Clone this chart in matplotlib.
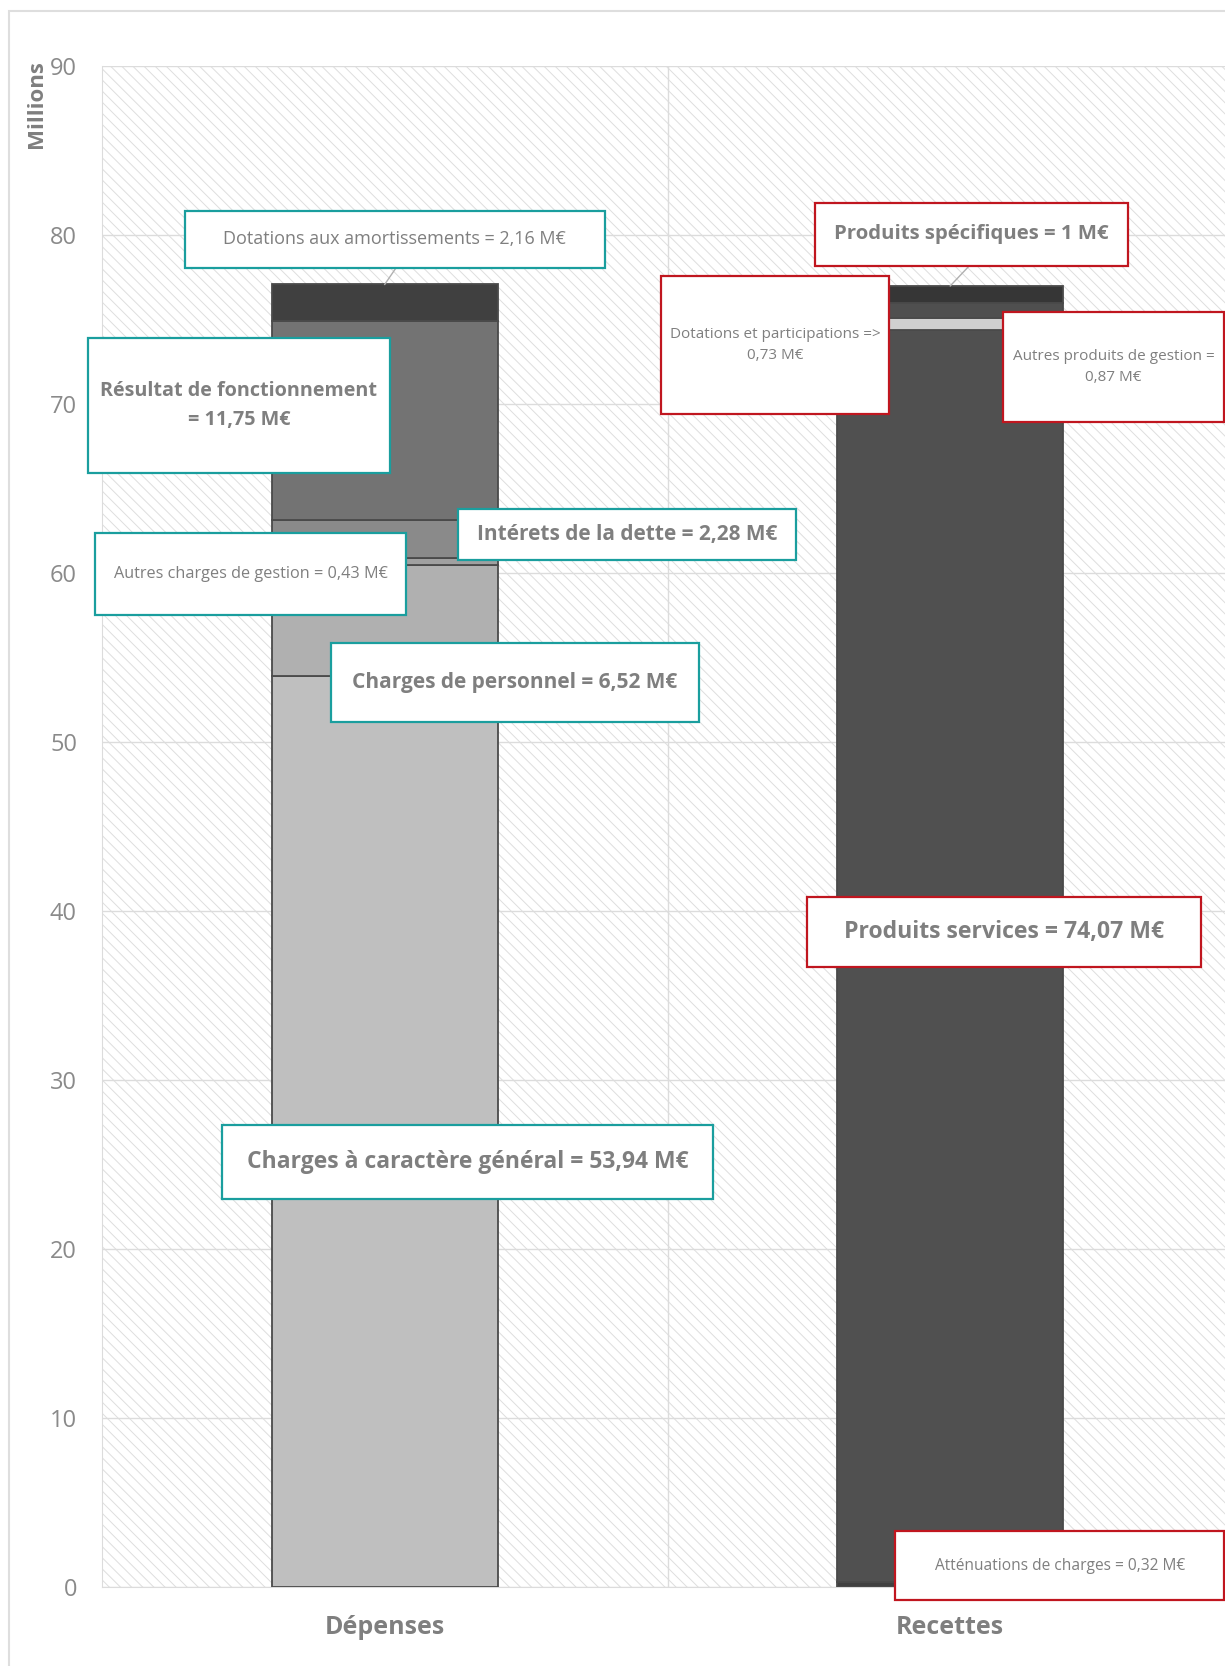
import matplotlib.pyplot as plt
from matplotlib.patches import Rectangle

plt.rcParams['font.family'] = ['Open Sans', 'DejaVu Sans']
plt.rcParams['hatch.linewidth'] = 0.7

# données (millions d'euros)
categories = ['Dépenses', 'Recettes']

dep_labels = ['Charges à caractère général', 'Charges de personnel',
              'Autres charges de gestion', 'Intérets de la dette',
              'Résultat de fonctionnement', 'Dotations aux amortissements']
dep_values = [53.94, 6.52, 0.43, 2.28, 11.75, 2.16]
dep_colors = ['#bfbfbf', '#b0b0b0', '#a0a0a0', '#8a8a8a', '#737373', '#404040']

rec_labels = ['Atténuations de charges', 'Produits services',
              'Dotations et participations', 'Autres produits de gestion',
              'Produits spécifiques']
rec_values = [0.32, 74.07, 0.73, 0.87, 1.00]
rec_colors = ['#404040', '#505050', '#d0d0d0', '#4f4f4f', '#363636']

y_ticks = [0, 10, 20, 30, 40, 50, 60, 70, 80, 90]

TEAL = '#1a9e9e'
RED = '#c0161f'
TXT = '#7f7f7f'

fig = plt.figure(figsize=(12.25, 16.66), dpi=100)
ax = fig.add_axes([102 / 1225, 0.0472, 1131 / 1225, 0.9132])

# cadre extérieur
fig.patches.append(Rectangle((9 / 1225, -0.01), 1.0, 1 - 11 / 1666 + 0.01,
                             transform=fig.transFigure, facecolor='none',
                             edgecolor='#dedede', linewidth=1.5))

# fond hachuré (chaque '\' = 6 traits par pouce)
ax.set_facecolor('white')
ax.add_patch(Rectangle((0, 0), 1, 1, transform=ax.transAxes, facecolor='white',
                       edgecolor='#dedede', hatch='\\\\\\', linewidth=0, zorder=0))

# barres empilées
def stack(x, values, colors):
    bottom = 0
    for v, c in zip(values, colors):
        ax.bar(x, v, bottom=bottom, width=0.4, color=c, edgecolor='#4a4a4a',
               linewidth=1.3, zorder=3)
        bottom += v
    return bottom

top_dep = stack(0, dep_values, dep_colors)
top_rec = stack(1, rec_values, rec_colors)

ax.set_xlim(-0.5, 1.5)
ax.set_ylim(0, 90)
ax.set_yticks(y_ticks)
ax.set_yticklabels([str(t) for t in y_ticks], color='#8a8a8a', fontsize=17)
ax.set_xticks([0, 1])
ax.set_xticklabels(categories, color=TXT, fontsize=18, fontweight='bold')
ax.tick_params(axis='y', length=0, pad=18)
ax.tick_params(axis='x', length=0, pad=20)
ax.grid(axis='y', color='#dcdcdc', linewidth=1, zorder=1)
ax.axvline(0.5, color='#dcdcdc', linewidth=1, zorder=1)
for s in ['top', 'right']:
    ax.spines[s].set_visible(False)
ax.spines['left'].set_color('#dcdcdc')
ax.spines['bottom'].set_color('#dcdcdc')
ax.set_axisbelow(True)

fig.text(37 / 1225, 1 - 104 / 1666, 'Millions', rotation=90, ha='center',
         va='center', color=TXT, fontsize=16, fontweight='bold')

# étiquettes (x0, y0, largeur, hauteur en coordonnées des données)
def label_box(x0, y0, w, h, text, ec, bold, size):
    ax.add_patch(Rectangle((x0, y0), w, h, facecolor='white', edgecolor=ec,
                           linewidth=1.6, zorder=5, clip_on=False))
    ax.text(x0 + w / 2, y0 + h / 2, text, ha='center', va='center', color=TXT,
            fontsize=size, fontweight='bold' if bold else 'normal',
            zorder=6, clip_on=False, linespacing=1.55)

# traits de rappel
ax.plot([0.0, 0.02], [top_dep, 78.06], color='#b0b0b0', lw=1, zorder=4)
ax.plot([1.0, 1.034], [top_rec, 78.19], color='#b0b0b0', lw=1, zorder=4)

label_box(-0.354, 78.06, 0.744, 3.39,
          'Dotations aux amortissements = 2,16 M€', TEAL, False, 13)
label_box(-0.525, 65.93, 0.534, 7.98,
          'Résultat de fonctionnement\n= 11,75 M€', TEAL, True, 14.2)
label_box(0.129, 60.78, 0.598, 3.02,
          'Intérets de la dette = 2,28 M€', TEAL, True, 15)
label_box(-0.512, 57.51, 0.549, 4.84,
          'Autres charges de gestion = 0,43 M€', TEAL, False, 11.7)
label_box(-0.095, 51.22, 0.650, 4.65,
          'Charges de personnel = 6,52 M€', TEAL, True, 15)
label_box(-0.287, 23.00, 0.868, 4.34,
          'Charges à caractère général = 53,94 M€', TEAL, True, 16.5)

label_box(0.760, 78.19, 0.555, 3.70,
          'Produits spécifiques = 1 M€', RED, True, 14.7)
label_box(0.488, 69.39, 0.404, 8.17,
          'Dotations et participations =>\n0,73 M€', RED, False, 11)
label_box(1.093, 68.95, 0.391, 6.47,
          'Autres produits de gestion =\n0,87 M€', RED, False, 11)
label_box(0.747, 36.70, 0.696, 4.15,
          'Produits services = 74,07 M€', RED, True, 16.6)
label_box(0.903, -0.75, 0.581, 4.08,
          'Atténuations de charges = 0,32 M€', RED, False, 11.2)

plt.savefig('out.png', dpi=100)
